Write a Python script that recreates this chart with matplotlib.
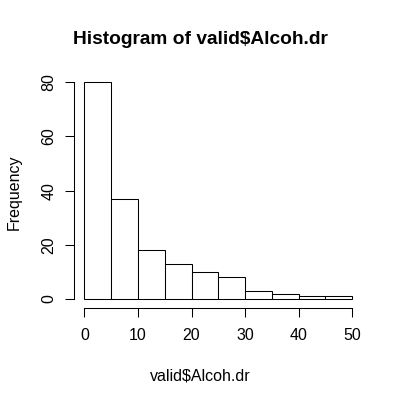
import numpy as np
import matplotlib
matplotlib.use('Agg')
import matplotlib.pyplot as plt

plt.rcParams['font.family'] = ['Liberation Sans', 'DejaVu Sans']

# histogram of valid$Alcoh.dr, bins of width 5
bin_edges = [0, 5, 10, 15, 20, 25, 30, 35, 40, 45, 50]
counts = [80, 37, 18, 13, 10, 8, 3, 2, 1, 1]
x_ticks = [0, 10, 20, 30, 40, 50]
y_ticks = [0, 20, 40, 60, 80]

fig = plt.figure(figsize=(4.01, 4.0), dpi=100)
W, H = 401, 400
# plot region in pixels (R style, 4% padding around data range)
left, right, top, bottom = 73.6, 363.0, 73.6, 307.7
ax = fig.add_axes([left / W, 1 - bottom / H, (right - left) / W, (bottom - top) / H])

ax.bar(bin_edges[:-1], counts, width=np.diff(bin_edges), align='edge',
       facecolor='white', edgecolor='black', linewidth=0.75)

ax.set_xlim(-2, 52)
ax.set_ylim(-3.2, 83.2)
for s in ['top', 'right']:
    ax.spines[s].set_visible(False)
ax.spines['left'].set_bounds(0, 80)
ax.spines['bottom'].set_bounds(0, 50)
ax.spines['left'].set_linewidth(0.75)
ax.spines['bottom'].set_linewidth(0.75)

ax.set_xticks(x_ticks)
ax.set_yticks(y_ticks)
ax.set_yticklabels([str(v) for v in y_ticks], rotation=90, va='center')
ax.tick_params(direction='out', length=6.5, width=0.75, labelsize=11.5, pad=6)
ax.tick_params(axis='x', pad=8)

fig.text(0.5, 1 - 39 / H, 'Histogram of valid$Alcoh.dr', ha='center', va='center',
         fontsize=13.8, fontweight='bold')
fig.text(0.5, 1 - 376 / H, 'valid$Alcoh.dr', ha='center', va='center', fontsize=11.5)
fig.text(14 / W, 1 - 192 / H, 'Frequency', ha='center', va='center', rotation=90, fontsize=11.5)

fig.savefig('out.png', dpi=100)
